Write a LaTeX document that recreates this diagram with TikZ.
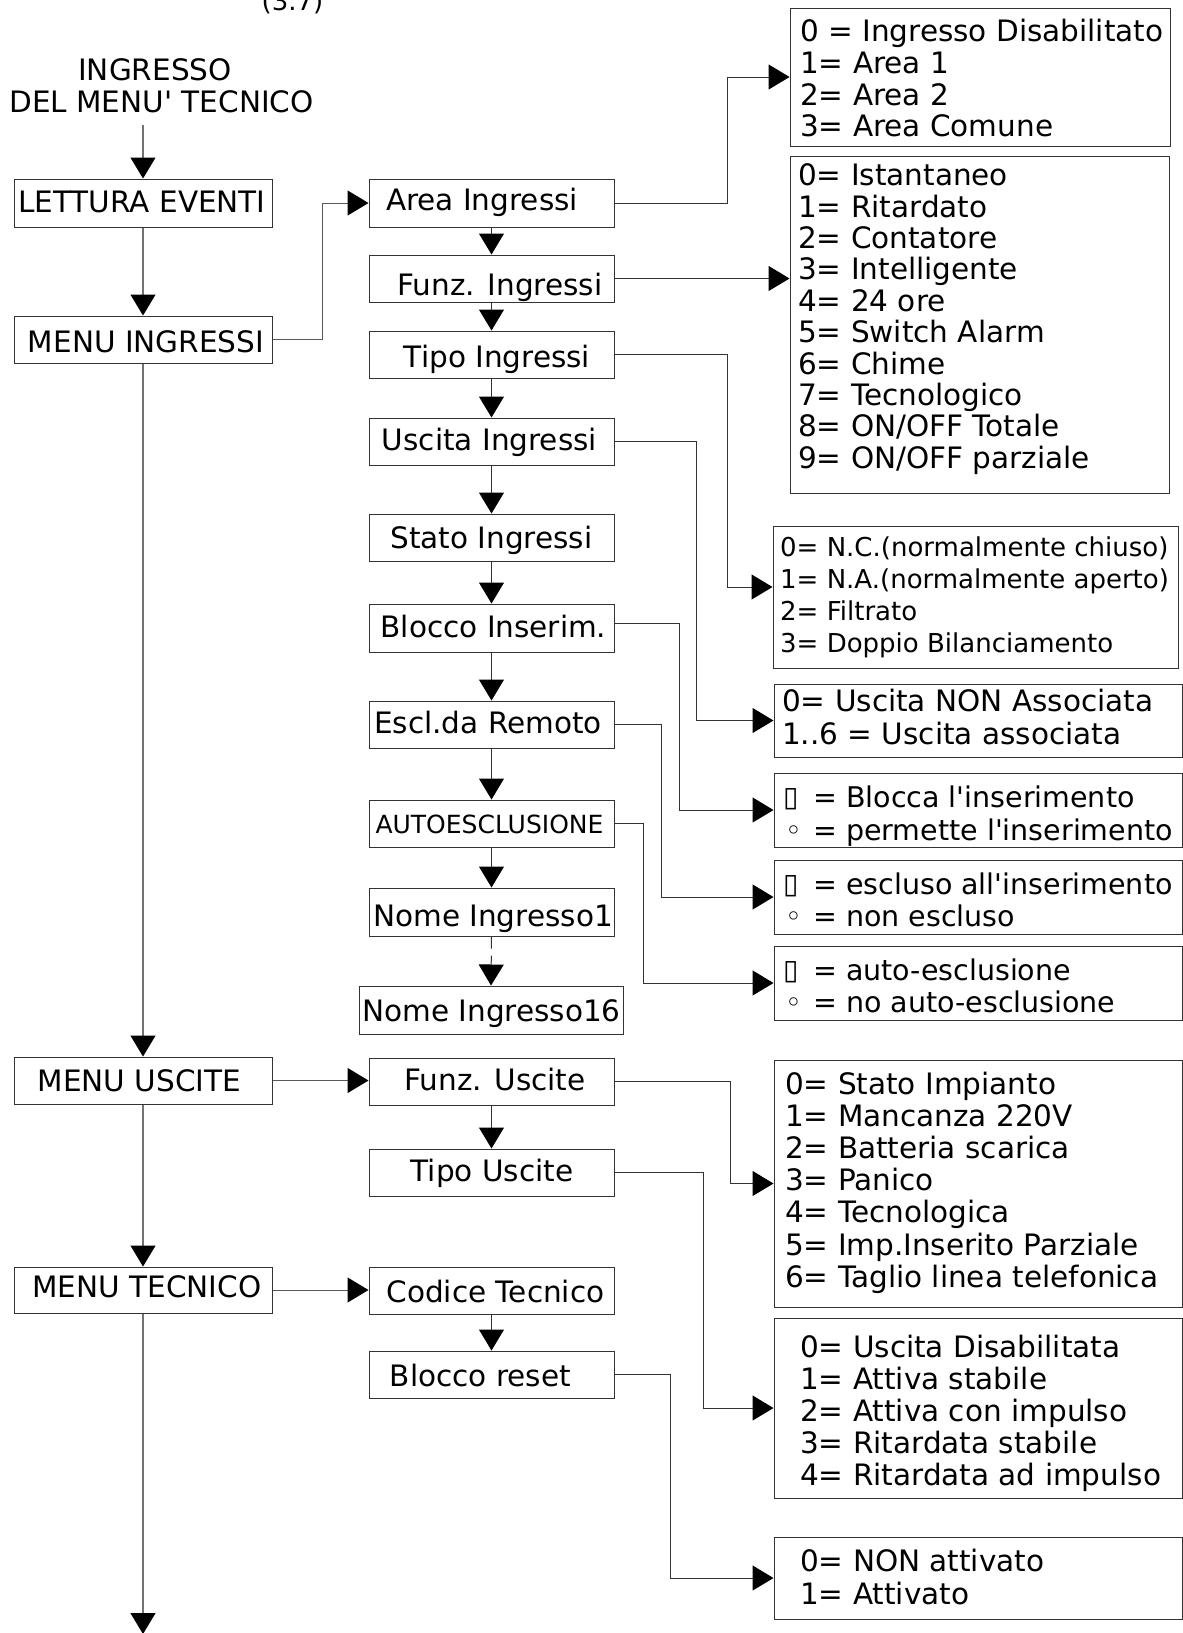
\documentclass[tikz,border=0pt]{standalone}
\usepackage{fontspec}
\setmainfont{DejaVu Sans}
\usetikzlibrary{arrows.meta}
\newcommand\q{\textquotesingle}
\newcommand\sq{\makebox[30pt][l]{\raisebox{1pt}{\fontsize{28}{28}\selectfont ▯}}}
\newcommand\ci{\makebox[30pt][l]{\hspace{2pt}◦}}
\newcommand\bx[5]{\node[box, minimum width=#4-#2, minimum height=#5-#3] (#1) at ({(#2+#4)/2},{(#3+#5)/2}) {};}
\newcommand\optlist[5]{\foreach \t [count=\i from 0] in {#5} {\node[otext] (#1-\i) at (#2,{#3+\i*#4}) {\t};}}
\begin{document}
\begin{tikzpicture}[x=1pt,y=-1pt,
  box/.style={draw=black!80, line width=1pt, inner sep=0pt},
  mtext/.style={anchor=base, inner sep=0pt, font=\fontsize{29.5}{32}\selectfont},
  otext/.style={anchor=base west, inner sep=0pt, font=\fontsize{29.5}{32}\selectfont},
  tip/.style={-{Triangle[length=21pt,width=25pt,color=black]}},
  mainarr/.style={tip, draw=black!55, line width=1.2pt},
  subarr/.style={tip, draw=black!80, line width=1pt}]
\useasboundingbox (0,0) rectangle (1183,1633);

% title
\node[mtext, font=\fontsize{26}{30}\selectfont] (secnum) at (292.5,10) {(3.7)};
\node[mtext] (title1) at (155,80) {INGRESSO};
\node[mtext] (title2) at (161.5,112) {DEL MENU\q{} TECNICO};
\coordinate (tstart) at (143,125);
\coordinate (bend) at (143,1634);

% main column
\bx{lett}{14}{179}{272}{227}
\bx{ming}{14}{316}{272}{363}
\bx{musc}{14}{1057}{272}{1104}
\bx{mtec}{14}{1267}{272}{1313}
\node[mtext] (lett-t) at (142,212) {LETTURA EVENTI};
\node[mtext] (ming-t) at (146,352.7) {MENU INGRESSI};
\node[mtext] (musc-t) at (139.5,1091.7) {MENU USCITE};
\node[mtext] (mtec-t) at (147,1297.7) {MENU TECNICO};

% sub column
\bx{area}{369}{179}{614}{227}
\bx{fing}{369}{255}{614}{302}
\bx{ting}{369}{331}{614}{378}
\bx{uing}{369}{418}{614}{465}
\bx{sing}{369}{514}{614}{561}
\bx{binz}{369}{604}{614}{652}
\bx{escl}{369}{701}{614}{748}
\bx{auto}{369}{800}{614}{847}
\bx{nom1}{369}{888}{614}{936}
\bx{nom16}{359}{986}{623}{1034}
\bx{fusc}{369}{1058}{614}{1105}
\bx{tusc}{369}{1149}{614}{1196}
\bx{ctec}{369}{1267}{614}{1314}
\bx{bres}{369}{1351}{614}{1398}
\node[mtext] (area-t) at (482,210.7) {Area Ingressi};
\node[mtext] (fing-t) at (500,295) {Funz. Ingressi};
\node[mtext] (ting-t) at (497,367.7) {Tipo Ingressi};
\node[mtext] (uing-t) at (489.5,450) {Uscita Ingressi};
\node[mtext] (sing-t) at (491.5,548) {Stato Ingressi};
\node[mtext] (binz-t) at (493.5,637) {Blocco Inserim.};
\node[mtext] (escl-t) at (488,733.6) {Escl.da Remoto};
\node[mtext, font=\fontsize{25}{28}\selectfont] (auto-t) at (489.5,833.6) {AUTOESCLUSIONE};
\node[mtext] (nom1-t) at (493,926) {Nome Ingresso1};
\node[mtext] (nom16-t) at (491.5,1021) {Nome Ingresso16};
\node[mtext] (fusc-t) at (495,1090.7) {Funz. Uscite};
\node[mtext] (tusc-t) at (492,1181.7) {Tipo Uscite};
\node[mtext] (ctec-t) at (495.5,1302.7) {Codice Tecnico};
\node[mtext] (bres-t) at (480.5,1386.7) {Blocco reset};

% option boxes
\bx{o1}{790}{8}{1170}{146}
\bx{o2}{790}{156}{1169}{493}
\bx{o3}{773}{526}{1178}{668}
\bx{o4}{774}{684}{1182}{757}
\bx{o5}{774}{773}{1182}{847}
\bx{o6}{774}{860}{1182}{934}
\bx{o7}{774}{946}{1182}{1020}
\bx{o8}{774}{1060}{1182}{1307}
\bx{o9}{774}{1318}{1182}{1498}
\bx{o10}{774}{1537}{1182}{1619}

\optlist{o1t}{800}{41.7}{31.7}{{0 = Ingresso Disabilitato},{1= Area 1},{2= Area 2},{3= Area Comune}}
\optlist{o2t}{798}{185.7}{31.4}{{0= Istantaneo},{1= Ritardato},{2= Contatore},{3= Intelligente},{4= 24 ore},{5= Switch Alarm},{6= Chime},{7= Tecnologico},{8= ON/OFF Totale},{9= ON/OFF parziale}}
\begin{scope}[otext/.append style={font=\fontsize{26}{30}\selectfont}]
\optlist{o3t}{780}{556}{32.3}{{0= N.C.(normalmente chiuso)},{1= N.A.(normalmente aperto)},{2= Filtrato},{3= Doppio Bilanciamento}}
\end{scope}
\optlist{o4t}{782}{711.4}{32.6}{{0= Uscita NON Associata},{1..6 = Uscita associata}}
\begin{scope}[otext/.append style={font=\fontsize{28.5}{32}\selectfont}]
\optlist{o5t}{783}{807}{33}{{\sq= Blocca l\q inserimento},{\ci= permette l\q inserimento}}
\optlist{o6t}{783}{894}{32}{{\sq= escluso all\q inserimento},{\ci= non escluso}}
\optlist{o7t}{783}{980}{32}{{\sq= auto-esclusione},{\ci= no auto-esclusione}}
\end{scope}
\optlist{o8t}{785}{1094}{32.2}{{0= Stato Impianto},{1= Mancanza 220V},{2= Batteria scarica},{3= Panico},{4= Tecnologica},{5= Imp.Inserito Parziale},{6= Taglio linea telefonica}}
\optlist{o9t}{800}{1357}{32}{{0= Uscita Disabilitata},{1= Attiva stabile},{2= Attiva con impulso},{3= Ritardata stabile},{4= Ritardata ad impulso}}
\optlist{o10t}{800}{1571}{33}{{0= NON attivato},{1= Attivato}}

% main column connectors
\draw[mainarr] (tstart) -- (lett.north);
\draw[mainarr] (lett.south) -- (ming.north);
\draw[mainarr] (ming.south) -- (musc.north);
\draw[mainarr] (musc.south) -- (mtec.north);
\draw[mainarr] (mtec.south) -- (bend);

% sub column connectors
\draw[subarr] (area.south) -- (fing.north);
\draw[subarr] (fing.south) -- (ting.north);
\draw[subarr] (ting.south) -- (uing.north);
\draw[subarr] (uing.south) -- (sing.north);
\draw[subarr] (sing.south) -- (binz.north);
\draw[subarr] (binz.south) -- (escl.north);
\draw[subarr] (escl.south) -- (auto.north);
\draw[subarr] (auto.south) -- (nom1.north);
\draw[subarr, dash pattern=on 12pt off 7pt] (nom1.south) -- (nom16.north);
\draw[subarr] (fusc.south) -- (tusc.north);
\draw[subarr] (ctec.south) -- (bres.north);

% horizontal connectors
\draw[subarr, draw=black!65] (ming.east) -- ++(50,0) |- (area.west);
\draw[subarr, draw=black!65] (musc.east) -- (musc.east -| fusc.west);
\draw[subarr, draw=black!65] (mtec.east) -- (mtec.east -| ctec.west);
\draw[subarr] (area.east) -- ++(113,0) |- (o1.west);
\draw[subarr] (fing.east) -- (fing.east -| o2.west);
\draw[subarr] (ting.east) -- ++(113,0) |- ([yshift=10pt]o3.west);
\draw[subarr] (uing.east) -- ++(82,0) |- (o4.west);
\draw[subarr] ([yshift=5pt]binz.east) -- ++(65,0) |- (o5.west);
\draw[subarr] (escl.east) -- ++(47,0) |- (o6.west);
\draw[subarr] (auto.east) -- ++(29,0) |- (o7.west);
\draw[subarr] (fusc.east) -- ++(116,0) |- (o8.west);
\draw[subarr] (tusc.east) -- ++(89,0) |- (o9.west);
\draw[subarr] (bres.east) -- ++(56,0) |- (o10.west);
\end{tikzpicture}
\end{document}
